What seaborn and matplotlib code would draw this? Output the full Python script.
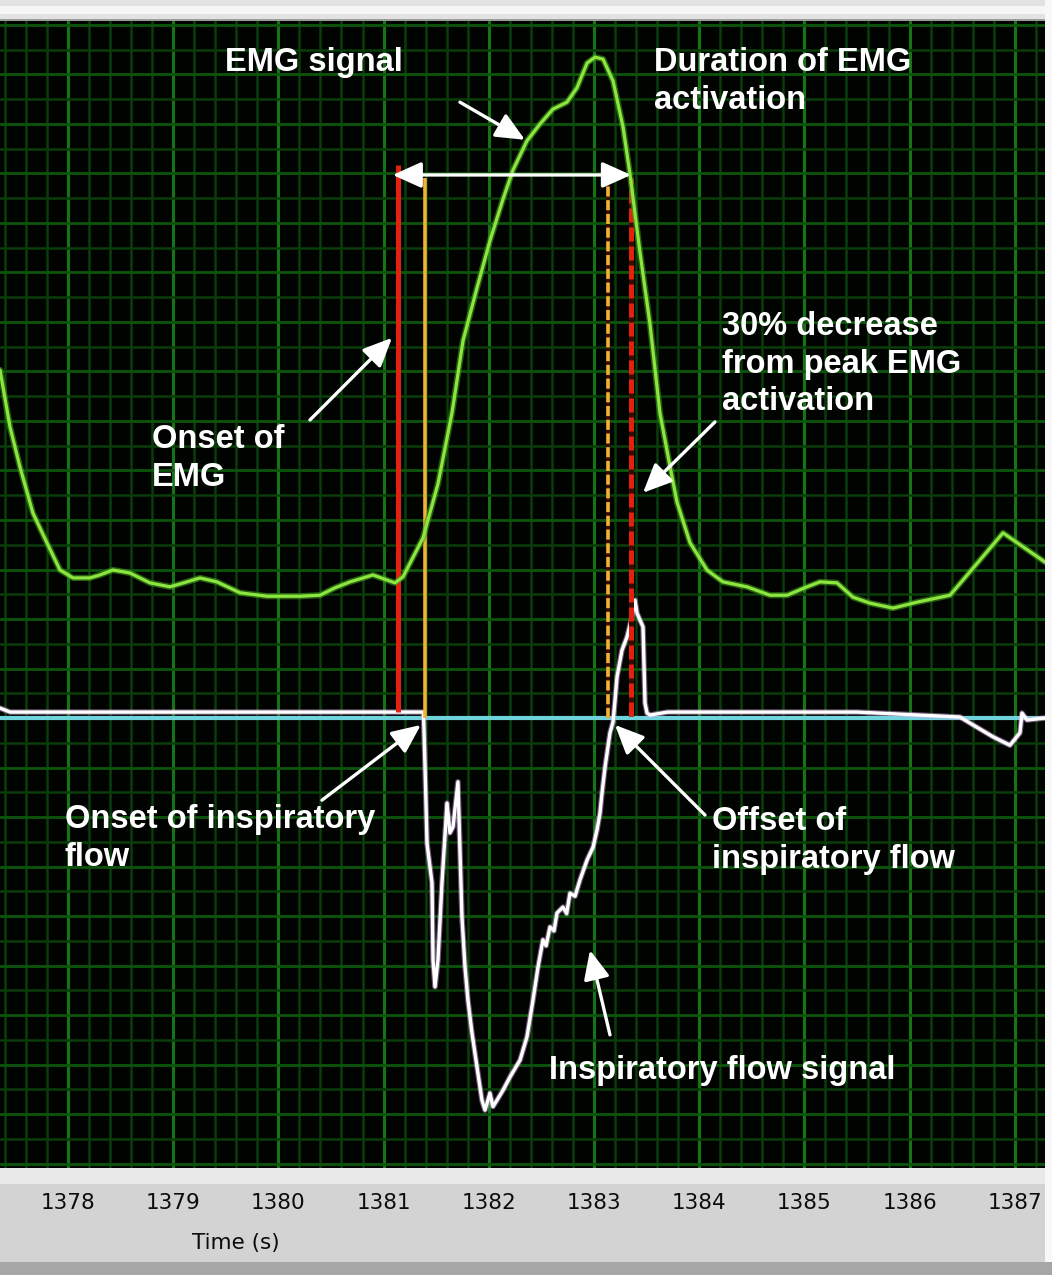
import matplotlib
matplotlib.use("Agg")
import matplotlib.pyplot as plt
import seaborn as sns
from matplotlib import font_manager
from matplotlib.patches import Rectangle
from matplotlib.ticker import MultipleLocator

# EMG trace: time (s) and amplitude (screen divisions above the flow baseline)
emg_time = [1377.354, 1377.449, 1377.544, 1377.667, 1377.800, 1377.924, 1378.048, 1378.209,
            1378.304, 1378.428, 1378.589, 1378.779, 1378.970, 1379.131, 1379.255, 1379.416,
            1379.635, 1379.892, 1380.205, 1380.395, 1380.538, 1380.681, 1380.899, 1381.108,
            1381.184, 1381.375, 1381.517, 1381.650, 1381.755, 1381.888, 1382.011, 1382.135,
            1382.230, 1382.363, 1382.487, 1382.610, 1382.743, 1382.838, 1382.934, 1383.010,
            1383.086, 1383.181, 1383.276, 1383.342, 1383.437, 1383.532, 1383.627, 1383.722,
            1383.789, 1383.913, 1384.074, 1384.226, 1384.454, 1384.673, 1384.835, 1385.025,
            1385.148, 1385.310, 1385.462, 1385.624, 1385.842, 1386.070, 1386.384, 1386.888,
            1387.287]
emg_amp = [7.03, 5.88, 5.07, 4.14, 3.54, 2.99, 2.83, 2.83,
           2.89, 2.99, 2.93, 2.73, 2.65, 2.75, 2.83, 2.75,
           2.53, 2.46, 2.46, 2.48, 2.63, 2.75, 2.89, 2.73,
           2.85, 3.64, 4.73, 6.16, 7.62, 8.69, 9.64, 10.48,
           11.07, 11.66, 12.00, 12.30, 12.44, 12.73, 13.23, 13.35,
           13.31, 12.87, 11.94, 10.99, 9.41, 7.96, 6.16, 5.09,
           4.36, 3.54, 2.99, 2.75, 2.65, 2.48, 2.48, 2.65,
           2.75, 2.73, 2.44, 2.32, 2.22, 2.34, 2.48, 3.74,
           3.15]

# inspiratory flow trace (negative = inspiration)
flow_time = [1377.354, 1377.450, 1378.600, 1379.800, 1381.000, 1381.375, 1381.380, 1381.394,
             1381.413, 1381.460, 1381.470, 1381.489, 1381.517, 1381.555, 1381.603, 1381.631,
             1381.660, 1381.707, 1381.726, 1381.745, 1381.774, 1381.802, 1381.840, 1381.888,
             1381.935, 1381.964, 1382.011, 1382.040, 1382.078, 1382.135, 1382.202, 1382.297,
             1382.363, 1382.420, 1382.468, 1382.515, 1382.545, 1382.582, 1382.620, 1382.648,
             1382.705, 1382.740, 1382.772, 1382.820, 1382.867, 1382.934, 1382.991, 1383.029,
             1383.057, 1383.076, 1383.105, 1383.152, 1383.181, 1383.200, 1383.219, 1383.266,
             1383.314, 1383.361, 1383.390, 1383.409, 1383.437, 1383.466, 1383.485, 1383.504,
             1383.532, 1383.700, 1384.500, 1385.500, 1386.479, 1386.603, 1386.793, 1386.954,
             1387.049, 1387.068, 1387.116, 1387.287]
flow_amp = [0.20, 0.12, 0.12, 0.12, 0.12, 0.12, 0.05, -0.99,
            -2.53, -3.33, -4.89, -5.43, -4.89, -3.33, -1.72, -2.32,
            -2.20, -1.29, -2.67, -4.02, -5.03, -5.70, -6.36, -7.05,
            -7.72, -7.92, -7.58, -7.85, -7.72, -7.52, -7.25, -6.91,
            -6.44, -5.70, -5.03, -4.48, -4.60, -4.22, -4.30, -3.94,
            -3.82, -3.95, -3.54, -3.60, -3.27, -2.87, -2.61, -2.26,
            -1.92, -1.52, -0.99, -0.30, -0.08, 0.36, 0.83, 1.37,
            1.64, 2.04, 2.38, 2.12, 1.98, 1.84, 0.30, 0.10,
            0.06, 0.12, 0.12, 0.12, 0.02, -0.14, -0.38, -0.55,
            -0.30, 0.10, -0.04, 0.00]

# event markers (s) and their vertical extent
marker_time = [1381.137, 1381.394, 1383.133, 1383.352]
marker_top = [11.17, 10.91, 10.91, 10.91]
marker_bottom = [0.12, 0.0, 0.0, 0.05]
marker_color = ["#e4210f", "#f2b233", "#f2b233", "#e4210f"]
marker_dashed = [False, False, True, True]
duration_level = 10.97

tick_secs = [1378, 1379, 1380, 1381, 1382, 1383, 1384, 1385, 1386, 1387]
tick_labels = [str(s) for s in tick_secs]

sns.set_theme(style="dark")
plt.rcParams["font.family"] = ["Liberation Sans", "DejaVu Sans"]

names = {f.name for f in font_manager.fontManager.ttflist}
if "Liberation Sans Narrow" in names:
    tick_font = dict(family="Liberation Sans Narrow", size=18)
else:
    tick_font = dict(family="DejaVu Sans", size=15.5)

W, H = 1052, 1275
fig = plt.figure(figsize=(W / 100, H / 100), dpi=100, facecolor="#d3d3d3")

# window chrome around the trace
def band(x0, y0, x1, y1, color):
    fig.add_artist(Rectangle((x0 / W, 1 - y1 / H), (x1 - x0) / W, (y1 - y0) / H,
                             transform=fig.transFigure, color=color, lw=0, zorder=-1))

band(0, 0, W, 21, "#e2e2e2")
band(0, 6, W, 14, "#f5f5f5")
band(0, 19, W, 22, "#9c9c9c")
band(0, 1168, W, 1184, "#e9e9e9")
band(0, 1262, W, H, "#a6a6a6")
band(1045, 0, W, 1262, "#f8f8f8")

ax = fig.add_axes([0, 1 - 1168 / H, 1045 / W, (1168 - 21) / H])
ax.set_facecolor("#010301")
for s in ax.spines.values():
    s.set_visible(False)

ax.set_xlim(1377.354, 1387.287)
ax.set_ylim(-9.09, 14.08)

ax.set_xticks(tick_secs)
ax.set_xticklabels(tick_labels)
ax.xaxis.set_minor_locator(MultipleLocator(0.2))
ax.yaxis.set_major_locator(MultipleLocator(1))
ax.yaxis.set_minor_locator(MultipleLocator(0.5))
ax.set_axisbelow(True)
ax.grid(which="minor", color="#093d09", lw=1.8)
ax.grid(which="major", axis="y", color="#0d550d", lw=2.0)
ax.grid(which="major", axis="x", color="#157515", lw=2.2)
ax.tick_params(axis="y", which="both", length=0, labelleft=False)
ax.tick_params(axis="x", which="minor", length=0)
ax.tick_params(axis="x", which="major", length=10, width=1.6, color="#222222",
               direction="out", pad=8, labelcolor="#0c0c0c")
for lab in ax.get_xticklabels():
    lab.set_fontfamily(tick_font["family"])
    lab.set_fontsize(tick_font["size"])
    lab.set_fontweight("medium")
ax.set_xlabel("")
ax.set_ylabel("")

# flow baseline and flow trace
ax.axhline(0, color="#6fd3dc", lw=3.0, zorder=2)
sns.lineplot(x=flow_time, y=flow_amp, ax=ax, color="#d9a6e6", lw=4.0, alpha=0.5,
             sort=False, estimator=None, zorder=3)
sns.lineplot(x=flow_time, y=flow_amp, ax=ax, color="white", lw=2.4,
             sort=False, estimator=None, zorder=4)

# event markers
for t, top, bot, c, dashed in zip(marker_time, marker_top, marker_bottom,
                                  marker_color, marker_dashed):
    w = 3.6 if c == "#e4210f" else 2.6
    if dashed:
        ax.vlines(t, bot, top, color="#3a0c02", lw=w, zorder=5)
        ax.vlines(t, bot, top, color=c, lw=w, linestyles=(0, (2.8, 1.0)), zorder=6)
    else:
        ax.vlines(t, bot, top, color=c, lw=w, zorder=6)

# EMG trace with a soft glow
sns.lineplot(x=emg_time, y=emg_amp, ax=ax, color="#3f9a1c", lw=4.5, alpha=0.6,
             sort=False, estimator=None, zorder=7)
sns.lineplot(x=emg_time, y=emg_amp, ax=ax, color="#8de640", lw=2.3,
             sort=False, estimator=None, zorder=8)

arrow = dict(arrowstyle="-|>,head_length=0.8,head_width=0.36", mutation_scale=22,
             color="white", lw=2.4, shrinkA=0, shrinkB=0)

# duration double arrow
ax.annotate("", xy=(marker_time[3], duration_level), xytext=(marker_time[0] - 0.05, duration_level),
            arrowprops=dict(arrow, arrowstyle="<|-|>,head_length=0.8,head_width=0.36"),
            zorder=10)

txt = dict(color="white", fontsize=23.5, fontweight="bold", ha="left", va="center",
           linespacing=1.27, zorder=11, family=["Liberation Sans", "DejaVu Sans"])

ax.text(1379.492, 13.25, "EMG signal", **txt)
ax.annotate("", xy=(1382.344, 11.68), xytext=(1381.726, 12.44), arrowprops=arrow, zorder=10)

ax.text(1383.570, 12.86, "Duration of EMG\nactivation", **txt)

ax.text(1384.217, 7.15, "30% decrease\nfrom peak EMG\nactivation", **txt)
ax.annotate("", xy=(1383.466, 4.55), xytext=(1384.150, 5.98), arrowprops=arrow, zorder=10)

ax.text(1378.798, 5.24, "Onset of\nEMG", **txt)
ax.annotate("", xy=(1381.080, 7.68), xytext=(1380.300, 6.02), arrowprops=arrow, zorder=10)

ax.text(1377.971, -2.43, "Onset of inspiratory\nflow", **txt)
ax.annotate("", xy=(marker_time[1] - 0.04, -0.14), xytext=(1380.414, -1.66),
            arrowprops=arrow, zorder=10)

ax.text(1384.122, -2.47, "Offset of\ninspiratory flow", **txt)
ax.annotate("", xy=(1383.200, -0.14), xytext=(1384.055, -1.96), arrowprops=arrow, zorder=10)

ax.text(1382.572, -7.13, "Inspiratory flow signal", **txt)
ax.annotate("", xy=(1382.962, -4.69), xytext=(1383.152, -6.40), arrowprops=arrow, zorder=10)

fig.text(236 / W, 1 - 1243 / H, "Time (s)", ha="center", va="center", color="#0c0c0c",
         family=tick_font["family"], fontsize=tick_font["size"])

fig.savefig("out.png", dpi=100, facecolor=fig.get_facecolor())
